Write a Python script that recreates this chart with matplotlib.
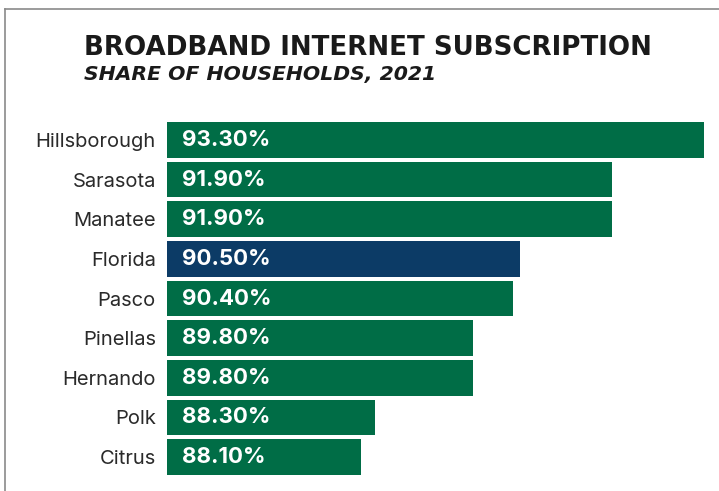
import matplotlib
matplotlib.use("Agg")
import matplotlib.pyplot as plt
from matplotlib.lines import Line2D

# data
counties = ["Hillsborough", "Sarasota", "Manatee", "Florida", "Pasco",
            "Pinellas", "Hernando", "Polk", "Citrus"]
shares = [93.3, 91.9, 91.9, 90.5, 90.4, 89.8, 89.8, 88.3, 88.1]
value_labels = ["93.30%", "91.90%", "91.90%", "90.50%", "90.40%",
                "89.80%", "89.80%", "88.30%", "88.10%"]

GREEN = "#006d46"
BLUE = "#0c3b66"
colors = [BLUE if c == "Florida" else GREEN for c in counties]

plt.rcParams['font.family'] = ['Inter', 'DejaVu Sans']

fig = plt.figure(figsize=(7.19, 4.91), dpi=100)
ax = fig.add_axes([0.2323, 0.0289, 0.7469, 0.7263])

x0 = 85.15
ypos = list(range(len(counties)))
ax.barh(ypos, [s - x0 for s in shares], left=x0, height=0.9, color=colors)
ax.set_xlim(x0, 93.3)
ax.set_ylim(len(counties) - 0.5, -0.5)

for y, s, lab in zip(ypos, shares, value_labels):
    ax.annotate(lab, (x0, y), xytext=(11, 0), textcoords="offset points",
                ha="left", va="center", color="white",
                fontsize=16, fontweight="bold")

ax.set_yticks(ypos)
ax.set_yticklabels(counties, fontsize=14.5, color="#2a2a2a")
ax.tick_params(axis="y", length=0, pad=8)
ax.set_xticks([])
for sp in ax.spines.values():
    sp.set_visible(False)

fig.text(84 / 719, 1 - 55 / 491, "BROADBAND INTERNET SUBSCRIPTION",
         fontsize=18.8, fontweight="bold", family="DejaVu Sans",
         color="#1a1a1a", ha="left", va="baseline")
fig.text(84 / 719, 1 - 80 / 491, "SHARE OF HOUSEHOLDS, 2021",
         fontsize=14.7, fontweight="bold", fontstyle="italic",
         family="DejaVu Sans", color="#1a1a1a", ha="left", va="baseline")

# frame lines
fig.add_artist(Line2D([5 / 719, 1], [1 - 9 / 491, 1 - 9 / 491],
                      transform=fig.transFigure, color="#8a8a8a", lw=1.2))
fig.add_artist(Line2D([5 / 719, 5 / 719], [0, 1 - 9 / 491],
                      transform=fig.transFigure, color="#8a8a8a", lw=1.2))

fig.savefig("out.png", dpi=100)
